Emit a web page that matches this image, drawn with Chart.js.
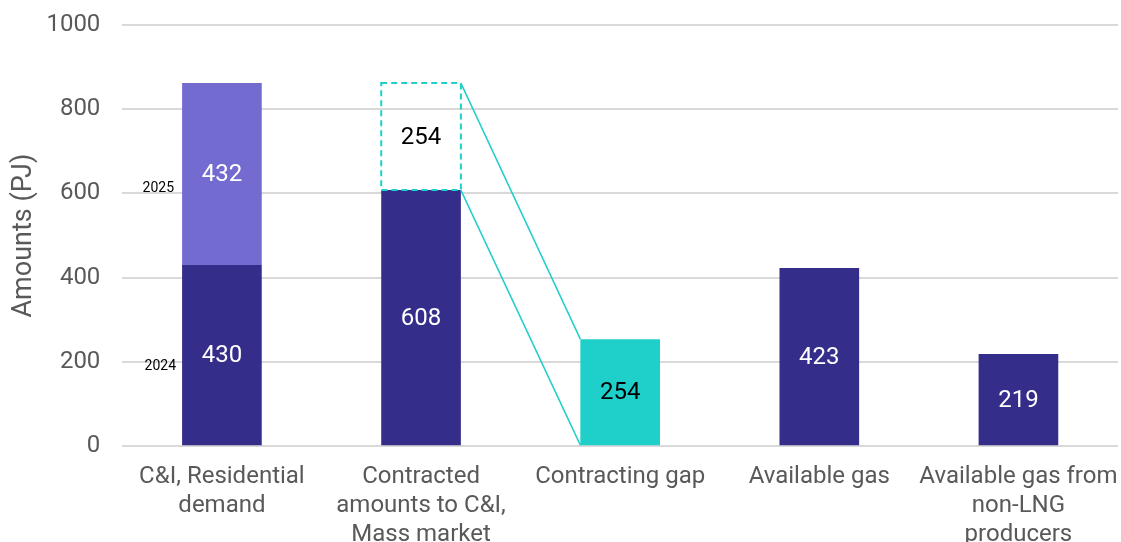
<!DOCTYPE html>
<html>
<head>
<meta charset="utf-8">
<script src="https://cdn.jsdelivr.net/npm/chart.js@4.4.0/dist/chart.umd.min.js"></script>
<style>
  html, body { margin: 0; padding: 0; background: #fff; overflow: hidden; }
  #wrap { width: 1121px; height: 558px; }
</style>
</head>
<body>
<div id="wrap"><canvas id="gas-chart" width="1121" height="558"></canvas></div>
<script>
const categories = [
    ['C&I, Residential', 'demand'],
    ['Contracted', 'amounts to C&I,', 'Mass market'],
    'Contracting gap',
    'Available gas',
    ['Available gas from', 'non-LNG', 'producers']
];
const baseAmounts = [430, 608, null, 423, 219];
const demand2025 = [432, null, null, null, null];
const uncontracted = [null, 254, null, null, null];
const gapAmounts = [null, null, 254, null, null];
const yTicks = [0, 200, 400, 600, 800, 1000];
const yearLabels = ['2024', '2025'];

const DARK = '#352d8a';
const LIGHT = '#736bcf';
const TEAL = '#1fcfc9';

// labels in the middle of each segment, dashed outline and the two connector lines
const overlay = {
    id: 'overlay',
    afterDatasetsDraw(chart) {
        const ctx = chart.ctx;
        const y = chart.scales.y;
        const dashed = chart.getDatasetMeta(2).data[1];
        const gap = chart.getDatasetMeta(3).data[2];

        ctx.save();
        // dashed box for the uncontracted part
        const l = dashed.x - dashed.width / 2, r = dashed.x + dashed.width / 2;
        ctx.strokeStyle = TEAL;
        ctx.lineWidth = 2;
        ctx.setLineDash([6, 4]);
        ctx.strokeRect(l, dashed.y, r - l, dashed.base - dashed.y);
        ctx.setLineDash([]);

        // connectors to the gap bar
        const gl = gap.x - gap.width / 2;
        ctx.lineWidth = 1.5;
        ctx.beginPath();
        ctx.moveTo(r, dashed.y);
        ctx.lineTo(gl, gap.y);
        ctx.moveTo(r, dashed.base);
        ctx.lineTo(gl, gap.base);
        ctx.stroke();

        // value labels
        ctx.font = '24px Roboto';
        ctx.textAlign = 'center';
        ctx.textBaseline = 'middle';
        chart.data.datasets.forEach((ds, i) => {
            chart.getDatasetMeta(i).data.forEach((bar, j) => {
                const v = ds.data[j];
                if (v == null) return;
                ctx.fillStyle = ds.labelColor;
                ctx.fillText(String(v), bar.x, (bar.y + bar.base) / 2 + 1);
            });
        });

        // year notes beside the first bar
        const first = chart.getDatasetMeta(0).data[0];
        ctx.font = '14px Roboto';
        ctx.fillStyle = '#000';
        ctx.textAlign = 'right';
        ctx.fillText(yearLabels[0], first.x - first.width / 2 - 6, y.getPixelForValue(188));
        ctx.fillText(yearLabels[1], first.x - first.width / 2 - 8, y.getPixelForValue(612));
        ctx.restore();
    }
};

new Chart(document.getElementById('gas-chart'), {
    type: 'bar',
    data: {
        labels: categories,
        datasets: [
            { data: baseAmounts, backgroundColor: DARK, labelColor: '#fff' },
            { data: demand2025, backgroundColor: LIGHT, labelColor: '#fff' },
            { data: uncontracted, backgroundColor: 'rgba(0,0,0,0)', labelColor: '#000' },
            { data: gapAmounts, backgroundColor: TEAL, labelColor: '#000' }
        ]
    },
    options: {
        responsive: false,
        animation: false,
        events: [],
        layout: { padding: { top: 0, right: 3, left: 4 } },
        datasets: { bar: { categoryPercentage: 1, barPercentage: 0.4 } },
        plugins: { legend: { display: false }, tooltip: { enabled: false } },
        scales: {
            x: {
                stacked: true,
                grid: { display: false },
                border: { display: false },
                // let the long category labels run past the plot edges
                afterFit: s => { s.paddingLeft = 0; s.paddingRight = 0; },
                ticks: {
                    color: '#595959',
                    font: { family: 'Roboto', size: 24, lineHeight: 1.22 },
                    maxRotation: 0,
                    autoSkip: false,
                    padding: 8
                }
            },
            y: {
                stacked: true,
                min: 0,
                max: 1000,
                afterBuildTicks: axis => { axis.ticks = yTicks.map(v => ({ value: v })); },
                // tick padding is reserved twice by default; keep only one
                afterFit: s => { s.width -= 22; s.paddingTop = 25; s.paddingBottom = 0; },
                grid: { color: '#d9d9d9', lineWidth: 2, drawTicks: false },
                border: { display: false },
                ticks: {
                    color: '#595959',
                    font: { family: 'Roboto', size: 24 },
                    padding: 22,
                    callback: v => String(v)
                },
                title: {
                    display: true,
                    text: 'Amounts (PJ)',
                    color: '#595959',
                    font: { family: 'Roboto', size: 27 },
                    padding: { bottom: 6 }
                }
            }
        }
    },
    plugins: [overlay]
});
</script>
</body>
</html>
